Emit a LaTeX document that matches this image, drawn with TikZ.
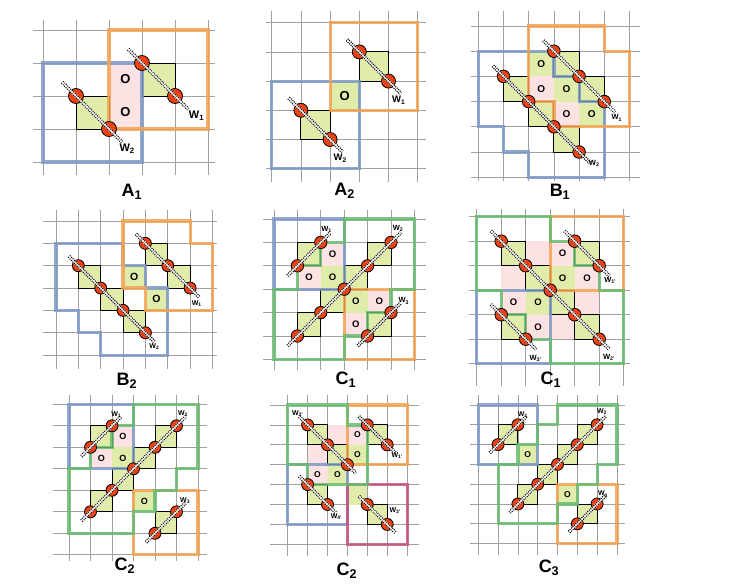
\documentclass[tikz,border=0pt]{standalone}
\usepackage{fontspec}
\setmainfont{Liberation Sans}
\definecolor{gridc}{RGB}{160,160,160}
\definecolor{blueb}{RGB}{124,152,196}
\definecolor{orangeb}{RGB}{245,162,82}
\definecolor{greenb}{RGB}{104,188,112}
\definecolor{magb}{RGB}{200,82,125}
\definecolor{pinkf}{RGB}{252,226,226}
\definecolor{greenf}{RGB}{224,237,170}
\definecolor{ballc}{RGB}{236,66,20}
\tikzset{
  gridl/.style={draw=gridc, line width=0.7pt},
  reg/.style={line width=3.2pt, draw opacity=0.85, line join=miter},
  sqst/.style={fill=greenf, draw=black, line width=1pt},
  ballst/.style={fill=ballc, draw=black, line width=0.8pt},
  wa/.style={draw=white, line width=3.4pt, draw opacity=0.6},
  wb/.style={draw=black, line width=3.4pt, dash pattern=on 1pt off 1.1pt},
  wc/.style={draw=white, line width=1.2pt, draw opacity=0.9},
  olab/.style={font=\bfseries},
  wlab/.style={font=\bfseries, inner sep=0pt},
  plab/.style={font=\fontsize{18}{18}\selectfont\bfseries, inner sep=0pt},
  pk/.style={fill=pinkf},
  gn/.style={fill=greenf},
}
\newcommand{\gridlines}[6]{%
  \foreach \gi in {0,...,#1} {\draw[gridl] (\gi,#5) -- (\gi,#6);}
  \foreach \gj in {0,...,#2} {\draw[gridl] (#3,\gj) -- (#4,\gj);}}
\newcommand{\fc}[3]{\fill[#3] (#1,#2) rectangle ++(1,1);}
\newcommand{\oc}[4]{\fill[#4] (#2,#3) rectangle ++(1,1); \node[olab] (#1) at (#2+0.5,#3+0.5) {O};}
\newcommand{\sq}[2]{\filldraw[sqst] (#1,#2) rectangle ++(1,1);}
\newcommand{\ball}[2]{\filldraw[ballst] (#1,#2) circle[radius=\ballr];}
\newcommand{\wire}[4]{%
  \pgfmathsetmacro{\wdx}{0.42*sign(#3-#1)}%
  \pgfmathsetmacro{\wdy}{0.42*sign(#4-#2)}%
  \path ({#1-(\wdx)},{#2-(\wdy)}) coordinate (wS) ({#3+(\wdx)},{#4+(\wdy)}) coordinate (wE);
  \draw[wa] (wS) -- (wE); \draw[wb] (wS) -- (wE); \draw[wc] (wS) -- (wE);}
\newcommand{\wl}[4]{\node[wlab] (#1) at (#2,#3) {W\textsubscript{#4}};}
\begin{document}
\begin{tikzpicture}[x=1pt,y=-1pt]
\fill[white] (0,0) rectangle (748,587);
\useasboundingbox (0,0) rectangle (748,587);

% ---------------- A1
\def\ballr{7.5pt}
\begin{scope}[shift={(43,30)}, x=33pt, y=-33pt, olab/.style={font=\fontsize{13}{13}\selectfont\bfseries}, wlab/.style={font=\fontsize{11}{11}\selectfont\bfseries, inner sep=0pt}]
\gridlines{5}{4}{-0.3}{5.2}{-0.3}{4.4}
\oc{a1o1}{2}{1}{pk}
\oc{a1o2}{2}{2}{pk}
\sq{3}{1}\sq{1}{2}
\draw[reg, draw=blueb] (0,1) rectangle (3,4);
\draw[reg, draw=orangeb] (2,0) rectangle (5,3);
\ball{3}{1}\ball{4}{2}\ball{1}{2}\ball{2}{3}
\wire{3}{1}{4}{2}\wire{1}{2}{2}{3}
\wl{a1w1}{4.65}{2.6}{1}
\wl{a1w2}{2.55}{3.6}{2}
\end{scope}
\node[plab] (labA1) at (132,192) {A\textsubscript{1}};

% ---------------- A2
\def\ballr{7pt}
\begin{scope}[shift={(271.7,22.7)}, x=29.2pt, y=-29.2pt, olab/.style={font=\fontsize{13}{13}\selectfont\bfseries}, wlab/.style={font=\fontsize{9.5}{9.5}\selectfont\bfseries, inner sep=0pt}]
\gridlines{5}{5}{-0.2}{5.3}{-0.4}{5.45}
\oc{a2o1}{2}{2}{gn}
\sq{3}{1}\sq{1}{3}
\draw[reg, draw=blueb] (0,2) rectangle (3,5);
\draw[reg, draw=orangeb] (2,0) rectangle (5,3);
\ball{3}{1}\ball{4}{2}\ball{1}{3}\ball{2}{4}
\wire{3}{1}{4}{2}\wire{1}{3}{2}{4}
\wl{a2w1}{4.35}{2.65}{1}
\wl{a2w2}{2.35}{4.65}{2}
\end{scope}
\node[plab] (labA2) at (344.7,191) {A\textsubscript{2}};

% ---------------- B1
\def\ballr{6.3pt}
\begin{scope}[shift={(478.3,26)}, x=25.2pt, y=-25.2pt, olab/.style={font=\fontsize{10}{10}\selectfont\bfseries}, wlab/.style={font=\fontsize{7.5}{7.5}\selectfont\bfseries, inner sep=0pt}]
\gridlines{6}{6}{-0.3}{6.4}{-0.6}{6.15}
\oc{b1o1}{2}{1}{gn}\oc{b1o2}{2}{2}{pk}\oc{b1o3}{3}{2}{gn}\oc{b1o4}{3}{3}{pk}\oc{b1o5}{4}{3}{gn}
\sq{3}{1}\sq{4}{2}\sq{1}{2}\sq{2}{3}\sq{3}{4}
\draw[reg, draw=blueb] (0,1) -- (3,1) -- (3,2) -- (4,2) -- (4,3) -- (5,3) -- (5,6) -- (2,6) -- (2,5) -- (1,5) -- (1,4) -- (0,4) -- cycle;
\draw[reg, draw=orangeb] (2,0) -- (5,0) -- (5,1) -- (6,1) -- (6,4) -- (3,4) -- (3,3) -- (2,3) -- cycle;
\ball{3}{1}\ball{4}{2}\ball{5}{3}
\ball{1}{2}\ball{2}{3}\ball{3}{4}\ball{4}{5}
\wire{3}{1}{5}{3}\wire{1}{2}{4}{5}
\wl{b1w1}{5.5}{3.65}{1}
\wl{b1w2}{4.6}{5.45}{2}
\end{scope}
\node[plab] (labB1) at (560,192) {B\textsubscript{1}};

% ---------------- B2
\def\ballr{6pt}
\begin{scope}[shift={(56,221)}, x=22.35pt, y=-22.35pt, olab/.style={font=\fontsize{10.5}{10.5}\selectfont\bfseries}, wlab/.style={font=\fontsize{7}{7}\selectfont\bfseries, inner sep=0pt}]
\gridlines{7}{6}{-0.6}{7.2}{-0.5}{6.6}
\oc{b2o1}{3}{2}{gn}\oc{b2o2}{4}{3}{gn}
\sq{4}{1}\sq{5}{2}\sq{1}{2}\sq{2}{3}\sq{3}{4}
\draw[reg, draw=blueb] (0,1) -- (3,1) -- (3,2) -- (4,2) -- (4,3) -- (5,3) -- (5,6) -- (2,6) -- (2,5) -- (1,5) -- (1,4) -- (0,4) -- cycle;
\draw[reg, draw=orangeb] (3,0) -- (6,0) -- (6,1) -- (7,1) -- (7,4) -- (4,4) -- (4,3) -- (3,3) -- cycle;
\ball{4}{1}\ball{5}{2}\ball{6}{3}
\ball{1}{2}\ball{2}{3}\ball{3}{4}\ball{4}{5}
\wire{4}{1}{6}{3}\wire{1}{2}{4}{5}
\wl{b2w1}{6.3}{3.68}{1}
\wl{b2w2}{4.4}{5.62}{2}
\end{scope}
\node[plab] (labB2) at (127,381) {B\textsubscript{2}};

% ---------------- C1 (middle)
\def\ballr{6.2pt}
\begin{scope}[shift={(274,219)}, x=23.4pt, y=-23.4pt, olab/.style={font=\fontsize{9.5}{9.5}\selectfont\bfseries}, wlab/.style={font=\fontsize{7.5}{7.5}\selectfont\bfseries, inner sep=0pt}]
\gridlines{6}{6}{-0.47}{6.5}{-0.4}{6.45}
\oc{c1o1}{2}{1}{pk}\oc{c1o2}{1}{2}{pk}\oc{c1o3}{2}{2}{gn}\oc{c1o4}{3}{3}{gn}\oc{c1o5}{4}{3}{pk}\oc{c1o6}{3}{4}{pk}
\sq{1}{1}\sq{1}{4}\sq{2}{3}\sq{3}{2}\sq{4}{1}\sq{4}{4}
\draw[reg, draw=blueb] (0,0) rectangle (3,3);
\draw[reg, draw=orangeb] (3,3) rectangle (6,6);
\draw[reg, draw=greenb] (3,0) -- (6,0) -- (6,3) -- (5,3) -- (5,4) -- (4,4) -- (4,5) -- (3,5) -- (3,6) -- (0,6) -- (0,3) -- (1,3) -- (1,2) -- (2,2) -- (2,1) -- (3,1) -- cycle;
\ball{1}{2}\ball{2}{1}
\ball{1}{5}\ball{2}{4}\ball{3}{3}\ball{4}{2}\ball{5}{1}
\ball{4}{5}\ball{5}{4}
\wire{1}{2}{2}{1}\wire{1}{5}{5}{1}\wire{4}{5}{5}{4}
\wl{c1w1}{2.25}{0.45}{1}
\wl{c1w2}{5.3}{0.4}{2}
\wl{c1w3}{5.55}{3.5}{3}
\end{scope}
\node[plab] (labC1) at (346,380) {C\textsubscript{1}};

% ---------------- C1 (right)
\def\ballr{6.3pt}
\begin{scope}[shift={(476.7,216.7)}, x=24.5pt, y=-24.5pt, olab/.style={font=\fontsize{9.5}{9.5}\selectfont\bfseries}, wlab/.style={font=\fontsize{7.5}{7.5}\selectfont\bfseries, inner sep=0pt}]
\gridlines{6}{6}{-0.3}{6.25}{-0.3}{6.9}
\fc{2}{1}{pk}\fc{1}{2}{pk}\fc{4}{3}{pk}\fc{3}{4}{pk}
\oc{c1po1}{3}{1}{pk}\oc{c1po2}{4}{2}{pk}\oc{c1po3}{1}{3}{pk}\oc{c1po4}{2}{4}{pk}\oc{c1po5}{3}{2}{gn}\oc{c1po6}{2}{3}{gn}
\sq{1}{1}\sq{2}{2}\sq{3}{3}\sq{4}{4}\sq{4}{1}\sq{1}{4}
\draw[reg, draw=orangeb] (3,0) rectangle (6,3);
\draw[reg, draw=blueb] (0,3) rectangle (3,6);
\draw[reg, draw=greenb] (0,0) -- (3,0) -- (3,1) -- (4,1) -- (4,2) -- (5,2) -- (5,3) -- (6,3) -- (6,6) -- (3,6) -- (3,5) -- (2,5) -- (2,4) -- (1,4) -- (1,3) -- (0,3) -- cycle;
\ball{1}{1}\ball{2}{2}\ball{3}{3}\ball{4}{4}\ball{5}{5}
\ball{4}{1}\ball{5}{2}\ball{1}{4}\ball{2}{5}
\wire{1}{1}{5}{5}\wire{4}{1}{5}{2}\wire{1}{4}{2}{5}
\wl{c1pw2}{5.4}{5.75}{2'}
\wl{c1pw1}{5.45}{2.6}{1'}
\wl{c1pw3}{2.4}{5.78}{3'}
\end{scope}
\node[plab] (labC1p) at (551,380) {C\textsubscript{1}};

% ---------------- C2 (left)
\def\ballr{6pt}
\begin{scope}[shift={(69,404.3)}, x=21.5pt, y=-21.5pt, olab/.style={font=\fontsize{9}{9}\selectfont\bfseries}, wlab/.style={font=\fontsize{7}{7}\selectfont\bfseries, inner sep=0pt}]
\gridlines{6}{7}{-0.76}{6.4}{-0.43}{7.3}
\oc{c2o1}{2}{1}{pk}\oc{c2o2}{1}{2}{pk}\oc{c2o3}{2}{2}{gn}\oc{c2o4}{3}{4}{gn}
\sq{1}{1}\sq{1}{4}\sq{2}{3}\sq{3}{2}\sq{4}{1}\sq{4}{5}
\draw[reg, draw=blueb] (0,0) rectangle (3,3);
\draw[reg, draw=orangeb] (3,4) rectangle (6,7);
\draw[reg, draw=greenb] (3,0) -- (6,0) -- (6,3) -- (5,3) -- (5,4) -- (4,4) -- (4,5) -- (3,5) -- (3,6) -- (0,6) -- (0,3) -- (1,3) -- (1,2) -- (2,2) -- (2,1) -- (3,1) -- cycle;
\ball{1}{2}\ball{2}{1}
\ball{1}{5}\ball{2}{4}\ball{3}{3}\ball{4}{2}\ball{5}{1}
\ball{4}{6}\ball{5}{5}
\wire{1}{2}{2}{1}\wire{1}{5}{5}{1}\wire{4}{6}{5}{5}
\wl{c2w1}{2.2}{0.5}{1}
\wl{c2w2}{5.3}{0.42}{2}
\wl{c2w3}{5.4}{4.5}{3}
\end{scope}
\node[plab] (labC2) at (125,566) {C\textsubscript{2}};

% ---------------- C2 (middle)
\def\ballr{6pt}
\begin{scope}[shift={(287.7,405)}, x=19.9pt, y=-19.9pt, olab/.style={font=\fontsize{8.5}{8.5}\selectfont\bfseries}, wlab/.style={font=\fontsize{7}{7}\selectfont\bfseries, inner sep=0pt}]
\gridlines{6}{7}{-0.9}{6.6}{-0.5}{7.6}
\fc{2}{1}{pk}\fc{1}{2}{pk}\fc{3}{4}{gn}
\oc{c2po1}{3}{1}{pk}\oc{c2po2}{3}{2}{gn}\oc{c2po3}{1}{3}{pk}\oc{c2po4}{2}{3}{gn}
\sq{1}{1}\sq{2}{2}\sq{4}{1}\sq{1}{4}\sq{4}{5}
\draw[reg, draw=orangeb] (3,0) rectangle (6,3);
\draw[reg, draw=blueb] (0,3) rectangle (3,6);
\draw[reg, draw=magb] (3,4) rectangle (6,7);
\draw[reg, draw=greenb] (0,0) -- (3,0) -- (3,1) -- (4,1) -- (4,4) -- (1,4) -- (1,3) -- (0,3) -- cycle;
\ball{1}{1}\ball{2}{2}\ball{3}{3}
\ball{4}{1}\ball{5}{2}\ball{1}{4}\ball{2}{5}\ball{4}{5}\ball{5}{6}
\wire{1}{1}{3}{3}\wire{4}{1}{5}{2}\wire{1}{4}{2}{5}\wire{4}{5}{5}{6}
\wl{c2pw2}{0.5}{0.42}{2'}
\wl{c2pw1}{5.5}{2.55}{1'}
\wl{c2pw4}{2.45}{5.6}{4'}
\wl{c2pw3}{5.4}{5.3}{3'}
\end{scope}
\node[plab] (labC2p) at (347,571) {C\textsubscript{2}};

% ---------------- C3
\def\ballr{6pt}
\begin{scope}[shift={(478.3,405)}, x=19.8pt, y=-19.8pt, olab/.style={font=\fontsize{8.5}{8.5}\selectfont\bfseries}, wlab/.style={font=\fontsize{7}{7}\selectfont\bfseries, inner sep=0pt}]
\gridlines{7}{7}{-0.4}{7.4}{-0.5}{7.6}
\oc{c3o1}{2}{2}{gn}\oc{c3o2}{4}{4}{gn}
\sq{1}{1}\sq{2}{4}\sq{3}{3}\sq{4}{2}\sq{5}{1}\sq{5}{5}
\draw[reg, draw=blueb] (0,0) rectangle (3,3);
\draw[reg, draw=orangeb] (4,4) rectangle (7,7);
\draw[reg, draw=greenb] (4,0) -- (7,0) -- (7,3) -- (6,3) -- (6,4) -- (5,4) -- (5,5) -- (4,5) -- (4,6) -- (1,6) -- (1,3) -- (2,3) -- (2,2) -- (3,2) -- (3,1) -- (4,1) -- cycle;
\ball{1}{2}\ball{2}{1}
\ball{2}{5}\ball{3}{4}\ball{4}{3}\ball{5}{2}\ball{6}{1}
\ball{5}{6}\ball{6}{5}
\wire{1}{2}{2}{1}\wire{2}{5}{6}{1}\wire{5}{6}{6}{5}
\wl{c3w1}{2.25}{0.5}{1}
\wl{c3w2}{6.25}{0.35}{2}
\wl{c3w3}{6.3}{4.5}{3}
\end{scope}
\node[plab] (labC3) at (549,568) {C\textsubscript{3}};
\end{tikzpicture}
\end{document}
